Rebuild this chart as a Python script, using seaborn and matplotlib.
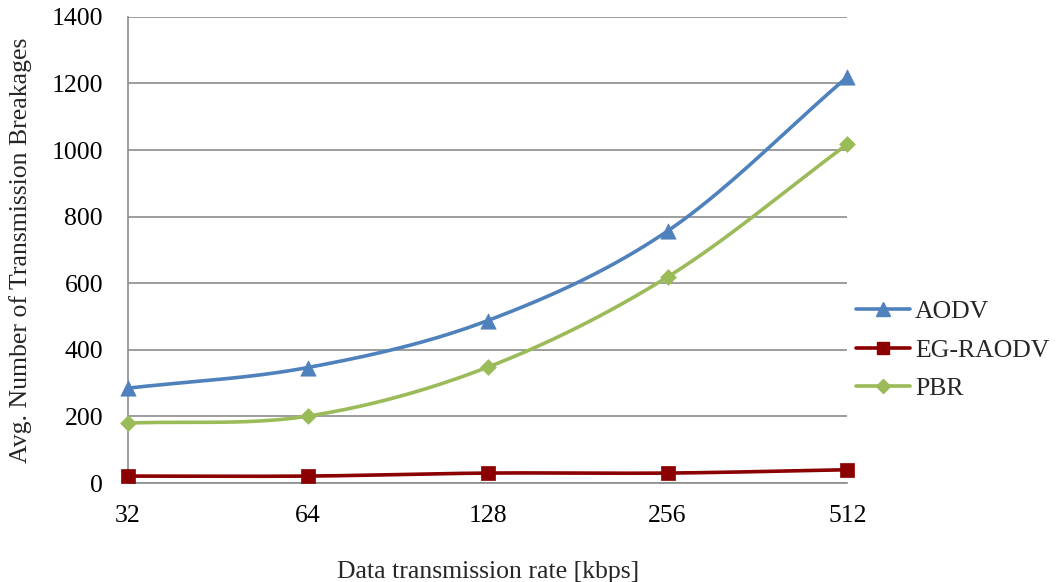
import numpy as np
import pandas as pd
import matplotlib
matplotlib.use("Agg")
import matplotlib.pyplot as plt
import seaborn as sns
from matplotlib.lines import Line2D

rates = ["32", "64", "128", "256", "512"]
aodv = [285, 347, 488, 757, 1220]
eg_raodv = [21, 21, 30, 30, 40]
pbr = [180, 201, 348, 619, 1018]
series_names = ["AODV", "EG-RAODV", "PBR"]
colors = {"AODV": "#4F81BD", "EG-RAODV": "#8B0000", "PBR": "#9BBB59"}
markers = {"AODV": "^", "EG-RAODV": "s", "PBR": "D"}
msizes = {"AODV": 11, "EG-RAODV": 10, "PBR": 8}
y_ticks = [0, 200, 400, 600, 800, 1000, 1200, 1400]
FS = 18.5


def smooth_curve(x, y, steps=40):
    """Catmull-Rom style smoothing through every point (like spreadsheet smoothed lines)."""
    x = np.asarray(x, float)
    y = np.asarray(y, float)
    px = np.concatenate([[2 * x[0] - x[1]], x, [2 * x[-1] - x[-2]]])
    py = np.concatenate([[2 * y[0] - y[1]], y, [2 * y[-1] - y[-2]]])
    xs, ys = [], []
    for i in range(1, len(px) - 2):
        p0, p1, p2, p3 = (np.array([px[j], py[j]]) for j in range(i - 1, i + 3))
        c1 = p1 + (p2 - p0) / 6.0
        c2 = p2 - (p3 - p1) / 6.0
        t = np.linspace(0, 1, steps)[:, None]
        b = ((1 - t) ** 3) * p1 + 3 * ((1 - t) ** 2) * t * c1 + 3 * (1 - t) * t ** 2 * c2 + t ** 3 * p2
        xs.append(b[:, 0])
        ys.append(b[:, 1])
    return np.concatenate(xs), np.concatenate(ys)


sns.set_theme(style="white")
plt.rcParams["font.family"] = ["Liberation Serif", "DejaVu Serif"]

fig = plt.figure(figsize=(10.58, 5.82), dpi=100)
ax = fig.add_axes([0.121, 0.170, 0.680, 0.801])

pos = np.arange(len(rates))
values = {"AODV": aodv, "EG-RAODV": eg_raodv, "PBR": pbr}

curve_rows = []
point_rows = []
for name in series_names:
    cx, cy = smooth_curve(pos, values[name])
    curve_rows.append(pd.DataFrame({"x": cx, "y": cy, "series": name}))
    point_rows.append(pd.DataFrame({"x": pos, "y": values[name], "series": name}))
curves = pd.concat(curve_rows, ignore_index=True)
points = pd.concat(point_rows, ignore_index=True)

sns.lineplot(data=curves, x="x", y="y", hue="series", palette=colors,
             linewidth=2.6, sort=False, estimator=None, legend=False, ax=ax, zorder=3)
for name in series_names:
    sub = points[points["series"] == name]
    sns.scatterplot(data=sub, x="x", y="y", color=colors[name], marker=markers[name],
                    s=msizes[name] ** 2, edgecolor=colors[name], linewidth=0.5,
                    legend=False, ax=ax, zorder=4, clip_on=False)

ax.set_xlim(0, len(rates) - 1)
ax.set_ylim(0, 1400)
ax.set_xticks(pos)
ax.set_xticklabels(rates)
ax.set_yticks(y_ticks)
ax.set_yticklabels([str(v) for v in y_ticks])
ax.yaxis.grid(True, color="#8C8C8C", linewidth=1.2)
ax.xaxis.grid(False)
for side in ["top", "right"]:
    ax.spines[side].set_visible(False)
ax.spines["left"].set_color("#8C8C8C")
ax.spines["bottom"].set_color("#8C8C8C")
ax.spines["left"].set_linewidth(1.2)
ax.spines["bottom"].set_linewidth(1.2)
ax.tick_params(axis="both", labelsize=FS, colors="black", length=0)
ax.tick_params(axis="x", pad=16)
ax.tick_params(axis="y", pad=18)

ax.set_xlabel("Data transmission rate [kbps]", fontsize=FS, labelpad=24)
ax.set_ylabel("Avg. Number of Transmission Breakages", fontsize=FS, labelpad=14)

handles = [Line2D([0], [0], color=colors[n], linewidth=2.6, marker=markers[n],
                  markersize=msizes[n] * 0.9, markeredgecolor=colors[n]) for n in series_names]
fig.legend(handles, series_names, loc="center left", bbox_to_anchor=(0.809, 0.3986),
           frameon=False, fontsize=FS, handlelength=2.1, labelspacing=0.6,
           handletextpad=0.2, borderpad=0, borderaxespad=0)

fig.savefig("out.png", dpi=100, facecolor="white")
